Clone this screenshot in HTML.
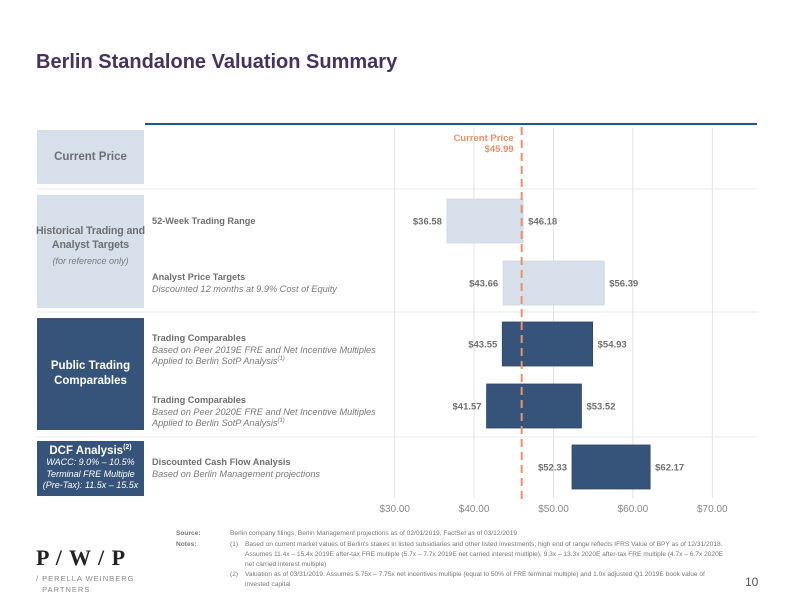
<!DOCTYPE html>
<html><head><meta charset="utf-8"><style>
body{margin:0;width:792px;height:612px;background:#fff;font-family:"Liberation Sans",sans-serif;position:relative;overflow:hidden}
.a{position:absolute}
.box{position:absolute;display:flex;flex-direction:column;justify-content:center;align-items:center;text-align:center;font-weight:bold;font-size:11.5px;line-height:15px;white-space:nowrap}
.lt{background:#d6dfea;color:#6f6f6f}
.dk{background:#365479;color:#fff}
.lbl{position:absolute;font-size:9.2px;color:#6f6f6f;line-height:12.5px;white-space:nowrap}
.lbl i{color:#7a7a7a}
.fn{position:absolute;font-size:6.6px;color:#777;line-height:10px}
</style></head><body>
<div class="a" style="left:36px;top:51px;font-size:20px;font-weight:bold;color:#45325f">Berlin Standalone Valuation Summary</div>

<div class="box lt" style="left:37px;top:130px;width:107px;height:54px">Current Price</div>
<div class="box lt" style="left:37px;top:195px;width:107px;height:113px"><span style="margin-top:-10px;font-size:10.6px;line-height:14px;letter-spacing:-0.1px">Historical Trading and<br>Analyst Targets</span><span style="font-weight:normal;font-style:italic;font-size:9px;color:#7a7a7a;margin-top:2px">(for reference only)</span></div>
<div class="box dk" style="left:37px;top:318px;width:107px;height:112px">Public Trading<br>Comparables</div>
<div class="box dk" style="left:37px;top:441px;width:107px;height:55px;line-height:11.5px"><span>DCF Analysis<sup style="font-size:7px;line-height:0">(2)</sup></span><span style="font-weight:normal;font-style:italic;font-size:9px">WACC: 9.0% – 10.5%<br>Terminal FRE Multiple<br>(Pre-Tax): 11.5x – 15.5x</span></div>

<div class="lbl" style="left:152px;top:215px"><b>52-Week Trading Range</b></div>
<div class="lbl" style="left:152px;top:272px;line-height:11.5px"><b>Analyst Price Targets</b><br><i>Discounted 12 months at 9.9% Cost of Equity</i></div>
<div class="lbl" style="left:152px;top:333px;line-height:11.5px"><b>Trading Comparables</b><br><i>Based on Peer 2019E FRE and Net Incentive Multiples<br>Applied to Berlin SotP Analysis<sup style="font-size:6px;line-height:0">(1)</sup></i></div>
<div class="lbl" style="left:152px;top:395px;line-height:11.5px"><b>Trading Comparables</b><br><i>Based on Peer 2020E FRE and Net Incentive Multiples<br>Applied to Berlin SotP Analysis<sup style="font-size:6px;line-height:0">(1)</sup></i></div>
<div class="lbl" style="left:152px;top:457px;line-height:11.5px"><b>Discounted Cash Flow Analysis</b><br><i>Based on Berlin Management projections</i></div>

<svg class="a" style="left:0;top:0" width="792" height="612" id="chart"></svg>

<div class="fn" style="left:176px;top:529px;width:552px">
<div style="position:relative;padding-left:54px"><b style="position:absolute;left:0">Source:</b>Berlin company filings, Berlin Management projections as of 02/01/2019, FactSet as of 03/12/2019</div>
<div style="position:relative;padding-left:54px;margin-top:1px"><b style="position:absolute;left:0">Notes:</b><span style="position:absolute;left:54px">(1)</span><div style="padding-left:15px">Based on current market values of Berlin's stakes in listed subsidiaries and other listed investments; high end of range reflects IFRS Value of BPY as of 12/31/2018. Assumes 11.4x – 15.4x 2019E after-tax FRE multiple (5.7x – 7.7x 2019E net carried interest multiple), 9.3x – 13.3x 2020E after-tax FRE multiple (4.7x – 6.7x 2020E net carried interest multiple)</div></div>
<div style="position:relative;padding-left:54px"><span style="position:absolute;left:54px">(2)</span><div style="padding-left:15px">Valuation as of 03/31/2019. Assumes 5.75x – 7.75x net incentives multiple (equal to 50% of FRE terminal multiple) and 1.0x adjusted Q1 2019E book value of invested capital</div></div>
</div>
<div class="a" style="left:36px;top:545px;color:#222">
<div style="font-family:'Liberation Serif',serif;font-size:22px;font-weight:bold;letter-spacing:1px">P / W / P</div>
<div style="font-size:7.5px;color:#888;letter-spacing:1px;line-height:11px;margin-top:2px">/ PERELLA WEINBERG<br>&nbsp;&nbsp;PARTNERS</div></div>
<div class="a" style="left:745px;top:575px;font-size:12px;color:#555">10</div>

<script>
const categories=["52-Week Trading Range","Analyst Price Targets","Trading Comparables 2019E","Trading Comparables 2020E","DCF Analysis"];
const lows=[36.58,43.66,43.55,41.57,52.33];
const highs=[46.18,56.39,54.93,53.52,62.17];
const dark=[false,false,true,true,true];
const ticks=[30,40,50,60,70];
const currentPrice=45.99;
const svg=document.getElementById('chart');
const NS='http://www.w3.org/2000/svg';
function x(v){return 394.7+(v-30)*7.94;}
const rowTop=[199,261,322,384,445];
const bh=44;
function mk(t,a,p){const e=document.createElementNS(NS,t);for(const k in a)e.setAttribute(k,a[k]);(p||svg).appendChild(e);return e;}
let r=mk('line',{x1:145,y1:124,x2:757,y2:124,stroke:'#1e5a88','stroke-width':2});


[189,312,437].forEach(y=>{const l=mk('line',{x1:37,y1:y,x2:757,y2:y,stroke:'#e4e8ef','stroke-width':1});

});
ticks.forEach(t=>{const g=mk('line',{x1:x(t),y1:128,x2:x(t),y2:498,stroke:'#e3e3e8','stroke-width':1});


const tx=mk('text',{x:x(t),y:512,'text-anchor':'middle','font-size':10,fill:'#888','font-family':'Liberation Sans'});
tx.textContent='$'+t.toFixed(2);

});
categories.forEach((c,i)=>{const y=rowTop[i];
const b=mk('rect',{x:x(lows[i]),y:y,width:x(highs[i])-x(lows[i]),height:bh,fill:dark[i]?'#365479':'#d6dfea',stroke:dark[i]?'#2c4666':'#cfd8e4','stroke-width':0.8});


const t1=mk('text',{x:x(lows[i])-5,y:y+bh/2+3.5,'text-anchor':'end','font-size':9.5,'font-weight':'bold',fill:'#707070','font-family':'Liberation Sans'});
t1.textContent='$'+lows[i].toFixed(2);


const t2=mk('text',{x:x(highs[i])+5,y:y+bh/2+3.5,'font-size':9.5,'font-weight':'bold',fill:'#707070','font-family':'Liberation Sans'});
t2.textContent='$'+highs[i].toFixed(2);

});
const cp=mk('line',{x1:x(currentPrice),y1:127,x2:x(currentPrice),y2:499,stroke:'#e9916a','stroke-width':2,'stroke-dasharray':'8,5'});


const c1=mk('text',{x:x(currentPrice)-8,y:141,'text-anchor':'end','font-size':9.5,'font-weight':'bold',fill:'#e9916a','font-family':'Liberation Sans'});
c1.textContent='Current Price';


const c2=mk('text',{x:x(currentPrice)-8,y:152,'text-anchor':'end','font-size':9.5,'font-weight':'bold',fill:'#e9916a','font-family':'Liberation Sans'});
c2.textContent='$'+currentPrice.toFixed(2);


</script>
</body></html>
